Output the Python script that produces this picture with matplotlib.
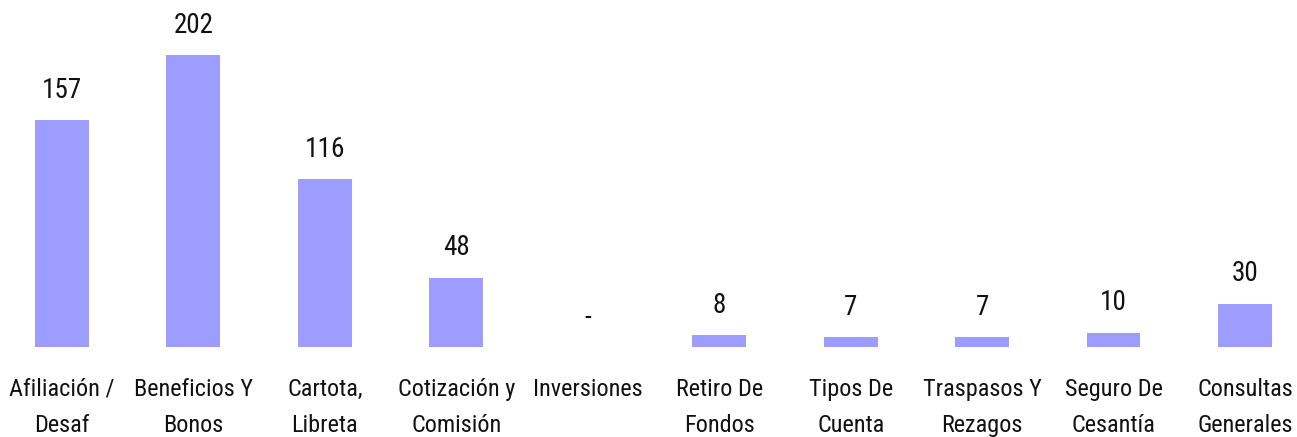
import matplotlib
matplotlib.use("Agg")
from matplotlib import pyplot as plt

# Data
categories = [
    "Afiliación /\nDesaf",
    "Beneficios Y\nBonos",
    "Cartota,\nLibreta",
    "Cotización y\nComisión",
    "Inversiones",
    "Retiro De\nFondos",
    "Tipos De\nCuenta",
    "Traspasos Y\nRezagos",
    "Seguro De\nCesantía",
    "Consultas\nGenerales",
]
values = [157, 202, 116, 48, 0, 8, 7, 7, 10, 30]

BAR_COLOR = "#9d9dff"
FONT = ["Roboto Condensed", "Archivo Narrow", "DejaVu Sans"]

plt.rcParams["font.family"] = FONT

fig = plt.figure(figsize=(12.97, 4.37), dpi=100)
ax = fig.add_axes([0, 90 / 437, 1, 347 / 437])

x = list(range(len(values)))
ax.bar(x, values, width=0.41, color=BAR_COLOR)

for xi, v in zip(x, values):
    label = "-" if v == 0 else str(v)
    ax.annotate(label, (xi, v), xytext=(0, 16), textcoords="offset points",
                ha="center", va="baseline", fontsize=19.5, color="#111111")

ax.set_xlim(-0.4717, 9.396)
ax.set_ylim(0, 240)
ax.set_xticks(x)
ax.set_xticklabels(categories, fontsize=17.5, color="#111111", linespacing=1.72)
ax.tick_params(axis="x", length=0, pad=22)
ax.set_yticks([])
for s in ax.spines.values():
    s.set_visible(False)

fig.savefig("out.png", dpi=100)
